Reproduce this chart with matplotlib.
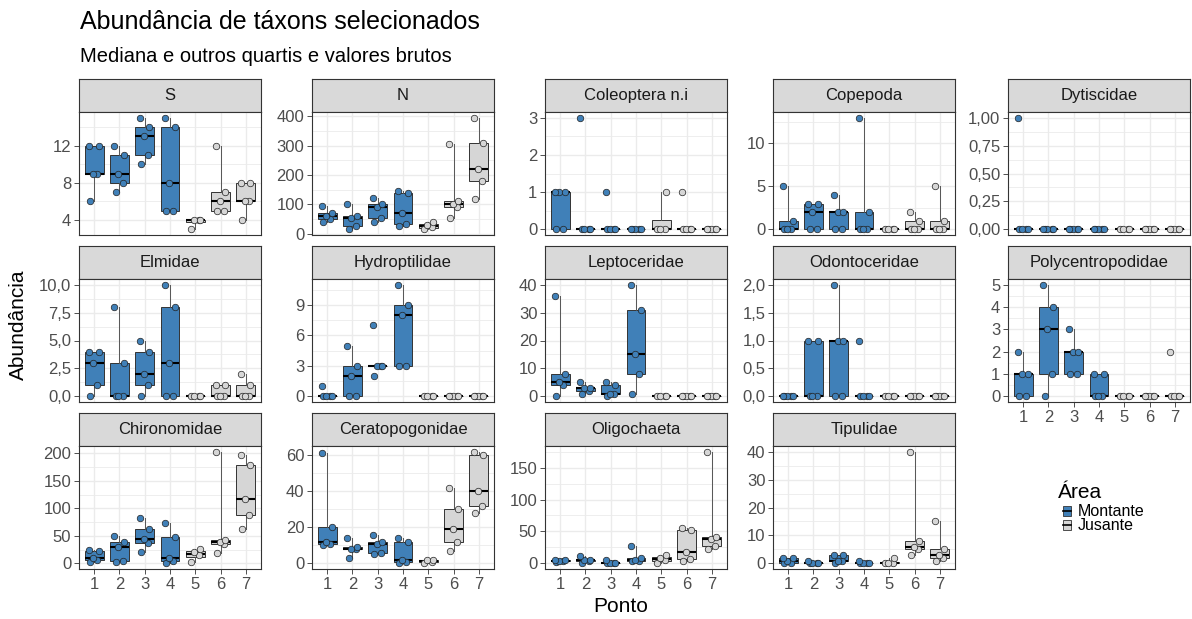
import matplotlib
matplotlib.use("Agg")
import matplotlib.pyplot as plt
from matplotlib.cbook import boxplot_stats
from matplotlib.patches import Rectangle
import numpy as np

plt.rcParams["font.family"] = ["Liberation Sans", "DejaVu Sans"]

W, H = 1192, 619
MONT = "#4080B8"
JUS = "#D6D6D6"
DARK = "#333333"
GRID = "#EBEBEB"

PONTOS = [1, 2, 3, 4, 5, 6, 7]
MONTANTE = [1, 2, 3, 4]

TAXA = ["S", "N", "Coleoptera n.i", "Copepoda", "Dytiscidae",
        "Elmidae", "Hydroptilidae", "Leptoceridae", "Odontoceridae", "Polycentropodidae",
        "Chironomidae", "Ceratopogonidae", "Oligochaeta", "Tipulidae"]

# raw counts per ponto (1..7)
S = [[6, 9, 9, 12, 12], [7, 8, 9, 11, 12], [10, 11, 13, 14, 15], [5, 5, 8, 14, 15],
     [3, 4, 4, 4], [5, 5, 6, 7, 12], [4, 6, 6, 8, 8]]
N = [[40, 52, 60, 70, 95], [18, 25, 55, 60, 100], [40, 55, 92, 100, 122], [25, 35, 70, 140, 145],
     [15, 22, 30, 40], [55, 90, 100, 110, 305], [120, 180, 220, 310, 395]]
COLEOPTERA = [[0, 0, 1, 1, 1], [0, 0, 0, 0, 3], [0, 0, 0, 0, 1], [0, 0, 0, 0, 0],
              [0, 0, 0, 1], [0, 0, 0, 0, 1], [0, 0, 0, 0, 0]]
COPEPODA = [[0, 0, 0, 1, 5], [0, 0, 2, 3, 3], [0, 0, 2, 2, 4], [0, 0, 0, 2, 13],
            [0, 0, 0, 0], [0, 0, 0, 1, 2], [0, 0, 0, 1, 5]]
DYTISCIDAE = [[0, 0, 0, 0, 1], [0, 0, 0, 0, 0], [0, 0, 0, 0, 0], [0, 0, 0, 0, 0],
              [0, 0, 0, 0], [0, 0, 0, 0, 0], [0, 0, 0, 0, 0]]
ELMIDAE = [[0, 1, 3, 4, 4], [0, 0, 0, 3, 8], [0, 1, 2, 4, 5], [0, 0, 3, 8, 10],
           [0, 0, 0, 0], [0, 0, 0, 1, 1], [0, 0, 0, 1, 2]]
HYDROPTILIDAE = [[0, 0, 0, 0, 1], [0, 0, 2, 3, 5], [2, 3, 3, 3, 7], [3, 3, 8, 9, 11],
                 [0, 0, 0, 0], [0, 0, 0, 0, 0], [0, 0, 0, 0, 0]]
LEPTOCERIDAE = [[0, 4, 5, 8, 36], [1, 2, 3, 3, 5], [0, 1, 1, 4, 5], [1, 8, 15, 31, 40],
                [0, 0, 0, 0], [0, 0, 0, 0, 0], [0, 0, 0, 0, 0]]
ODONTOCERIDAE = [[0, 0, 0, 0, 0], [0, 0, 0, 1, 1], [0, 0, 1, 1, 2], [0, 0, 0, 0, 1],
                 [0, 0, 0, 0], [0, 0, 0, 0, 0], [0, 0, 0, 0, 0]]
POLYCENTROPODIDAE = [[0, 0, 1, 1, 2], [0, 1, 3, 4, 5], [1, 1, 2, 2, 3], [0, 0, 0, 1, 1],
                     [0, 0, 0, 0], [0, 0, 0, 0, 0], [0, 0, 0, 0, 2]]
CHIRONOMIDAE = [[3, 7, 10, 23, 25], [2, 5, 30, 38, 50], [21, 37, 45, 63, 83], [0, 5, 9, 48, 73],
                [3, 15, 20, 27], [18, 35, 38, 42, 203], [62, 87, 117, 178, 197]]
CERATOPOGONIDAE = [[10, 11, 12, 20, 61], [3, 8, 8, 9, 14], [5, 6, 11, 12, 16], [0, 1, 2, 12, 14],
                   [0, 1, 2, 2], [7, 12, 19, 30, 42], [28, 32, 40, 60, 62]]
OLIGOCHAETA = [[2, 3, 4, 5, 6], [1, 3, 5, 6, 12], [0, 0, 1, 1, 6], [3, 4, 5, 8, 27],
               [0, 6, 8, 13], [3, 7, 18, 53, 55], [23, 28, 38, 42, 175]]
TIPULIDAE = [[0, 0, 1, 2, 2], [0, 0, 0, 0, 1], [0, 1, 1, 3, 3], [0, 0, 0, 0, 1],
             [0, 0, 0, 2], [3, 5, 6, 8, 40], [1, 2, 3, 5, 15]]

VALUES = [S, N, COLEOPTERA, COPEPODA, DYTISCIDAE,
          ELMIDAE, HYDROPTILIDAE, LEPTOCERIDAE, ODONTOCERIDAE, POLYCENTROPODIDAE,
          CHIRONOMIDAE, CERATOPOGONIDAE, OLIGOCHAETA, TIPULIDAE]

YTICKS = [[4, 8, 12], [0, 100, 200, 300, 400], [0, 1, 2, 3], [0, 5, 10], [0, 0.25, 0.5, 0.75, 1],
          [0, 2.5, 5, 7.5, 10], [0, 3, 6, 9], [0, 10, 20, 30, 40], [0, 0.5, 1, 1.5, 2], [0, 1, 2, 3, 4, 5],
          [0, 50, 100, 150, 200], [0, 20, 40, 60], [0, 50, 100, 150], [0, 10, 20, 30, 40]]

# layout in pixels
COL_X = [79, 312, 545, 773, 1008]
PANEL_W = 182
ROW_Y = [79, 246, 413]
STRIP_H = 33
PANEL_H = 123
JIT = [-0.15, 0.13, -0.04, 0.18, -0.2, 0.07]


def px_axes(fig, x, y, w, h):
    return fig.add_axes([x / W, 1 - (y + h) / H, w / W, h / H])


def fmt_tick(v, dec):
    return f"{v:.{dec}f}".replace(".", ",")


fig = plt.figure(figsize=(W / 100, H / 100), dpi=100)

for i, (name, vals, ticks) in enumerate(zip(TAXA, VALUES, YTICKS)):
    row, col = divmod(i, 5)
    x0, y0 = COL_X[col], ROW_Y[row]

    strip = px_axes(fig, x0, y0, PANEL_W, STRIP_H)
    strip.set_facecolor("#D9D9D9")
    strip.set_xticks([])
    strip.set_yticks([])
    for sp in strip.spines.values():
        sp.set_color(DARK)
        sp.set_linewidth(0.8)
    strip.text(0.5, 0.5, name, ha="center", va="center", fontsize=12, color="#1A1A1A",
               transform=strip.transAxes)

    ax = px_axes(fig, x0, y0 + STRIP_H, PANEL_W, PANEL_H)
    ax.set_axisbelow(True)

    # whiskers reach min/max, but collapse when the IQR is zero
    stats = [boxplot_stats(v, whis=100)[0] for v in vals]
    colors = [MONT if p in MONTANTE else JUS for p in PONTOS]

    bp = ax.bxp(stats, positions=PONTOS, widths=0.75, patch_artist=True,
                showcaps=False, showfliers=False,
                boxprops=dict(edgecolor=DARK, linewidth=0.7),
                medianprops=dict(color="black", linewidth=1.5),
                whiskerprops=dict(color="#555555", linewidth=0.7))
    for patch, c in zip(bp["boxes"], colors):
        patch.set_facecolor(c)

    for p, v, c in zip(PONTOS, vals, colors):
        xs = [p + JIT[k % len(JIT)] for k in range(len(v))]
        ax.scatter(xs, v, s=22, facecolor=c, edgecolor="#222222", linewidth=0.5, zorder=4)

    allv = [x for v in vals for x in v]
    lo, hi = min(allv), max(allv)
    pad = (hi - lo) * 0.05
    ax.set_ylim(lo - pad, hi + pad)
    ax.set_xlim(0.4, 7.6)

    dec = 0
    for t in ticks:
        s = f"{t:g}"
        if "." in s:
            dec = max(dec, len(s.split(".")[1]))
    ax.set_yticks(ticks)
    ax.set_yticklabels([fmt_tick(t, dec) for t in ticks])
    minors = [(a + b) / 2 for a, b in zip(ticks[:-1], ticks[1:])]
    step = ticks[1] - ticks[0]
    minors += [ticks[0] - step / 2, ticks[-1] + step / 2]
    minors = [m for m in minors if lo - pad <= m <= hi + pad]
    for m in minors:
        ax.axhline(m, color=GRID, lw=0.6, zorder=0)
    ax.grid(True, which="major", color=GRID, lw=1.0)

    bottom = (row == 2) or (row == 1 and col == 4)
    ax.set_xticks(PONTOS)
    if bottom:
        ax.set_xticklabels([str(p) for p in PONTOS])
        ax.tick_params(axis="x", length=3.5, width=0.6, color=DARK, labelsize=12,
                       labelcolor="#4D4D4D", pad=2)
    else:
        ax.tick_params(axis="x", length=0, labelbottom=False)
    ax.tick_params(axis="y", length=3.5, width=0.6, color=DARK, labelsize=12,
                   labelcolor="#4D4D4D", pad=2)
    for sp in ax.spines.values():
        sp.set_color(DARK)
        sp.set_linewidth(0.8)

fig.text(80 / W, 1 - 22 / H, "Abundância de táxons selecionados", fontsize=18,
         ha="left", va="center")
fig.text(80 / W, 1 - 57 / H, "Mediana e outros quartis e valores brutos", fontsize=14.5,
         ha="left", va="center")
fig.text(18 / W, 1 - 325 / H, "Abundância", fontsize=15, rotation=90,
         ha="center", va="center")
fig.text(621 / W, 1 - 607 / H, "Ponto", fontsize=15, ha="center", va="center")

# legend
fig.text(1058 / W, 1 - 493 / H, "Área", fontsize=15, ha="left", va="center")
for k, (lab, c) in enumerate([("Montante", MONT), ("Jusante", JUS)]):
    yc = 511 + k * 14
    lax = px_axes(fig, 1060, yc - 7, 14, 14)
    lax.set_xlim(0, 1)
    lax.set_ylim(0, 1)
    lax.axis("off")
    lax.add_patch(Rectangle((0.2, 0.12), 0.6, 0.76, facecolor=c, edgecolor=DARK, lw=0.6))
    lax.plot([0.2, 0.8], [0.5, 0.5], color="black", lw=1.2)
    fig.text(1078 / W, 1 - yc / H, lab, fontsize=11.5, ha="left", va="center")

fig.savefig("out.png", dpi=100, facecolor="white")
